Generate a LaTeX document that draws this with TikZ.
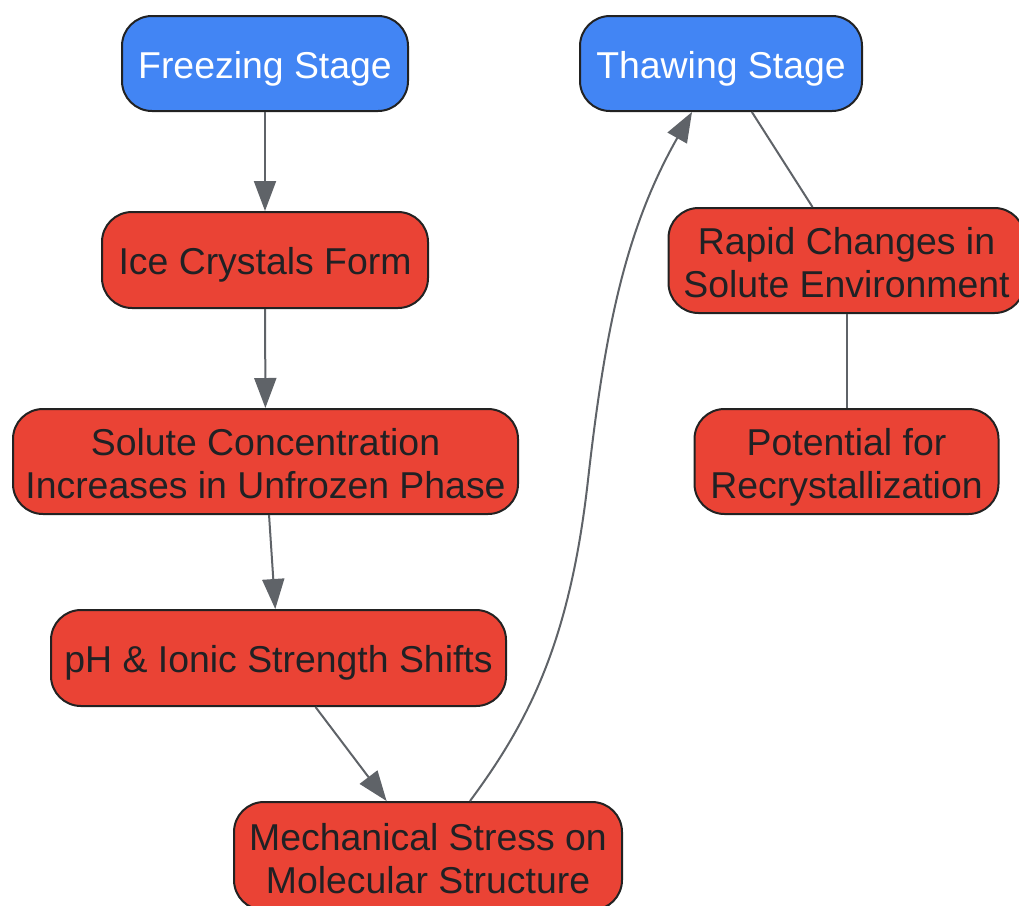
\documentclass[tikz,border=0pt]{standalone}
\usepackage{fontspec}
\setmainfont{Liberation Sans}
\usetikzlibrary{arrows.meta,calc}
\definecolor{nodeblue}{HTML}{4285F4}
\definecolor{nodered}{HTML}{EA4335}
\definecolor{edgegray}{HTML}{5F6368}
\definecolor{bordergray}{HTML}{222222}
\definecolor{textdark}{HTML}{202124}
\tikzset{
  box/.style={draw=bordergray, line width=2pt, rounded corners=30pt, align=center,
    font=\fontsize{37.4}{43}\selectfont, inner sep=0pt},
  oneline/.style={text height=29pt, text depth=0pt},
  twoline/.style={text height=74pt, text depth=0pt},
  bluebox/.style={box, fill=nodeblue, text=white},
  redbox/.style={box, fill=nodered, text=textdark},
  flow/.style={draw=edgegray, line width=2pt, -{Triangle[length=30pt,width=22pt]}},
  link/.style={draw=edgegray, line width=2pt},
}
\begin{document}
\begin{tikzpicture}[x=1pt,y=-1pt]
\useasboundingbox (0,0) rectangle (1019,905);
\node[bluebox, oneline, minimum width=286pt, minimum height=95pt] (freeze) at (265,63.5) {Freezing Stage};
\node[bluebox, oneline, minimum width=282pt, minimum height=95pt] (thaw) at (721,63.5) {Thawing Stage};
\node[redbox, oneline, minimum width=326pt, minimum height=96pt] (ice) at (265,260) {Ice Crystals Form};
\node[redbox, twoline, minimum width=505pt, minimum height=105pt] (solute) at (265.5,461.5) {Solute Concentration\\Increases in Unfrozen Phase};
\node[redbox, oneline, minimum width=455pt, minimum height=96pt] (ph) at (278.5,658) {pH \& Ionic Strength Shifts};
\node[redbox, twoline, minimum width=388pt, minimum height=108pt] (mech) at (428,856) {Mechanical Stress on\\Molecular Structure};
\node[redbox, twoline, minimum width=356pt, minimum height=105pt] (rapid) at (846.5,260.5) {Rapid Changes in\\Solute Environment};
\node[redbox, twoline, minimum width=304pt, minimum height=105pt] (pot) at (846.5,461.5) {Potential for\\Recrystallization};
\draw[flow] (freeze) -- (ice);
\draw[flow] (ice) -- (solute);
\draw[flow] (solute) -- (ph);
\draw[flow] (ph) -- (mech);
\draw[flow] ([xshift=42pt]mech.north) .. controls (530,720) and (570,640) .. (588,480)
  .. controls (605,330) and (625,230) .. ([xshift=-29pt]thaw.south);
\draw[link] (thaw) -- (rapid);
\draw[link] (rapid) -- (pot);
\end{tikzpicture}
\end{document}
